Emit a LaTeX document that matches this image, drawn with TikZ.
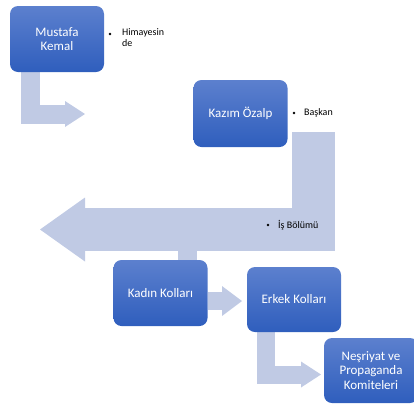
\documentclass[tikz,border=0pt]{standalone}
\usepackage{fontspec}
\setmainfont{Carlito}
\usetikzlibrary{arrows.meta,positioning,backgrounds}

\definecolor{arrowblue}{RGB}{192,202,228}
\definecolor{boxtop}{RGB}{92,128,206}
\definecolor{boxbottom}{RGB}{47,94,189}

\begin{document}
\begin{tikzpicture}
[x=1pt,y=-1pt,
box/.style={rounded corners=8pt,top color=boxtop,bottom color=boxbottom,text=white,align=center,
  minimum width=94pt,minimum height=66pt,inner sep=2pt,font=\fontsize{13}{14.5}\selectfont},
bar/.style={draw=arrowblue,line width=#1,line join=miter,line cap=butt},
dot/.style={circle,fill=black,inner sep=0pt,minimum size=2.8pt},
note/.style={align=left,inner sep=0pt,font=\fontsize{10}{11}\selectfont},]

\useasboundingbox (0,0) rectangle (414,405);

%Boxes
\node[box] (mk) at (57,39) {Mustafa\\Kemal};
\node[box,minimum height=67pt] (kz) at (240.5,113.5) {Kazım Özalp};
\node[box] (kk) at (160.5,293) {Kadın Kolları};
\node[box,minimum height=65pt] (ek) at (294,299.5) {Erkek Kolları};
\node[box,minimum height=65pt] (np) at (371,370.5) {Neşriyat ve\\Propaganda\\Komiteleri};

%Free ends of the arrows
\coordinate (a1) at (85,114);
\coordinate (b0) at (313.5,132);
\coordinate (b1) at (40,229.5);
\coordinate (c1) at (242,301);
\coordinate (d1) at (321,374.5);

%Arrows, behind the boxes
\begin{scope}[on background layer]
\fill[arrowblue] (178,251) rectangle (197,262);
\draw[bar=19pt,-{Triangle[length=20pt,width=26pt,line width=0pt]}] (mk.south -| 30.5,0) |- (a1);
\draw[bar=43pt,-{Triangle[length=45pt,width=64pt,line width=0pt]}] (b0) |- (b1);
\draw[bar=18pt,-{Triangle[length=20pt,width=30pt,line width=0pt]}] (kk.east |- c1) -- (c1);
\draw[bar=18pt,-{Triangle[length=20pt,width=26pt,line width=0pt]}] (ek.south -| 266,0) |- (d1);
\end{scope}

%Bullets
\node[dot] (h) at (110,34) {};
\node[note,anchor=north west] (ht) at (122,28.5) {Himayesin\\de};
\node[dot] (b) at (294,113) {};
\node[note,anchor=west] (bt) at (304,113) {Başkan};
\node[dot] (i) at (268,225) {};
\node[note,anchor=west] (it) at (278,225) {İş Bölümü};

\end{tikzpicture}
\end{document}
